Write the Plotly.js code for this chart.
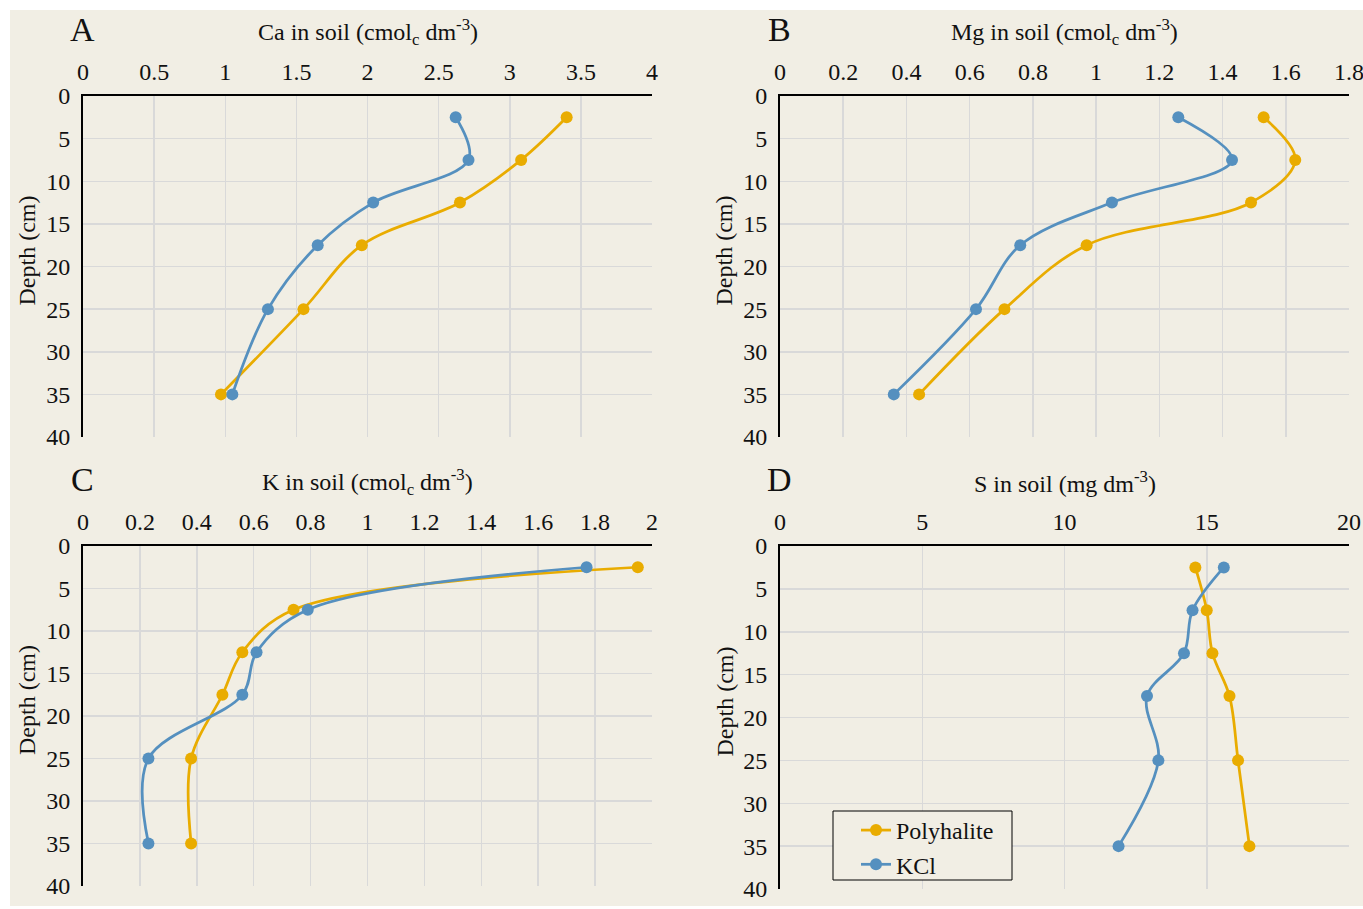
<!DOCTYPE html>
<html>
<head>
<meta charset="utf-8">
<script src="https://cdn.plot.ly/plotly-3.0.1.min.js"></script>
<style>
  html, body { margin: 0; padding: 0; background: #ffffff; }
  #chart { width: 1363px; height: 909px; }
  /* every label in the figure is set in a Times-style serif face */
  #chart text { font-family: 'Liberation Serif', 'Times New Roman', serif !important; }
</style>
</head>
<body>
<div id="chart"></div>
<script>
// Soil profiles: nutrient content by depth for two fertilizer sources
const depthCm = [2.5, 7.5, 12.5, 17.5, 25, 35];
const seriesNames = ['Polyhalite', 'KCl'];

const caPolyhalite = [3.40, 3.08, 2.65, 1.96, 1.55, 0.97];
const caKCl        = [2.62, 2.71, 2.04, 1.65, 1.30, 1.05];

const mgPolyhalite = [1.53, 1.63, 1.49, 0.97, 0.71, 0.44];
const mgKCl        = [1.26, 1.43, 1.05, 0.76, 0.62, 0.36];

const kPolyhalite  = [1.95, 0.74, 0.56, 0.49, 0.38, 0.38];
const kKCl         = [1.77, 0.79, 0.61, 0.56, 0.23, 0.23];

const sPolyhalite  = [14.6, 15.0, 15.2, 15.8, 16.1, 16.5];
const sKCl         = [15.6, 14.5, 14.2, 12.9, 13.3, 11.9];

// axis tick labels
const caTicks = ['0', '0.5', '1', '1.5', '2', '2.5', '3', '3.5', '4'];
const mgTicks = ['0', '0.2', '0.4', '0.6', '0.8', '1', '1.2', '1.4', '1.6', '1.8'];
const kTicks  = ['0', '0.2', '0.4', '0.6', '0.8', '1', '1.2', '1.4', '1.6', '1.8', '2'];
const sTicks  = ['0', '5', '10', '15', '20'];
const depthTicks = ['0', '5', '10', '15', '20', '25', '30', '35', '40'];

const panelLetters = ['A', 'B', 'C', 'D'];
const panelTitles = [
  'Ca in soil (cmol<sub>c</sub> dm<sup>-3</sup>)',
  'Mg in soil (cmol<sub>c</sub> dm<sup>-3</sup>)',
  'K in soil (cmol<sub>c</sub> dm<sup>-3</sup>)',
  'S in soil (mg dm<sup>-3</sup>)'
];
const depthTitle = 'Depth (cm)';
const tickSets = [caTicks, mgTicks, kTicks, sTicks];

const W = 1363, H = 909;
const FONT = 'Liberation Serif';
const FS = 24;
const INK = '#111111';
const BG = '#f1eee4';
const GOLD = '#e9ac00';
const BLUE = '#5590bf';

// plot-area boxes in pixels: [left, right, top, bottom]
const boxes = [
  [83, 652, 96, 437],
  [780, 1349, 96, 437],
  [83, 652, 546, 886],
  [780, 1349, 546, 889]
];
const px = v => v / W;
const py = v => 1 - v / H;

const dataPairs = [
  [caPolyhalite, caKCl],
  [mgPolyhalite, mgKCl],
  [kPolyhalite, kKCl],
  [sPolyhalite, sKCl]
];
const colors = [GOLD, BLUE];

const traces = [];
dataPairs.forEach((pair, i) => {
  const sfx = i === 0 ? '' : String(i + 1);
  pair.forEach((vals, j) => {
    traces.push({
      type: 'scatter',
      mode: 'lines+markers',
      name: seriesNames[j],
      x: vals,
      y: depthCm,
      xaxis: 'x' + sfx,
      yaxis: 'y' + sfx,
      line: { color: colors[j], width: 2.75, shape: 'spline', smoothing: 1 },
      marker: { color: colors[j], size: 12 },
      showlegend: i === 3,
      cliponaxis: false
    });
  });
});

const layout = {
  width: W,
  height: H,
  margin: { l: 0, r: 0, t: 0, b: 0 },
  paper_bgcolor: '#ffffff',
  plot_bgcolor: 'rgba(0,0,0,0)',
  font: { family: FONT, size: FS, color: INK },
  showlegend: true,
  legend: {
    x: px(856), y: py(808), xanchor: 'left', yanchor: 'top',
    bgcolor: 'rgba(0,0,0,0)', borderwidth: 0,
    font: { family: FONT, size: FS, color: INK },
    itemwidth: 30, tracegroupgap: 0
  },
  shapes: [
    {
      type: 'rect', xref: 'paper', yref: 'paper', layer: 'below',
      x0: px(10), x1: 1, y0: py(906), y1: py(10),
      fillcolor: BG, line: { width: 0 }
    },
    {
      // legend frame
      type: 'rect', xref: 'paper', yref: 'paper', layer: 'above',
      x0: px(833), x1: px(1012), y0: py(880), y1: py(811),
      fillcolor: BG, line: { color: '#000000', width: 1 }
    }
  ],
  annotations: []
};

boxes.forEach((b, i) => {
  const sfx = i === 0 ? '' : String(i + 1);
  const ticks = tickSets[i];
  const tv = ticks.map(Number);
  layout['xaxis' + sfx] = {
    domain: [px(b[0]), px(b[1])],
    anchor: 'y' + sfx,
    side: 'top',
    range: [tv[0], tv[tv.length - 1]],
    tickmode: 'array', tickvals: tv, ticktext: ticks,
    showgrid: true, gridcolor: '#d9d9d9', gridwidth: 1.5,
    zeroline: false,
    showline: true, linecolor: '#000000', linewidth: 2,
    ticks: '', ticklabelstandoff: 4, ticklabeloverflow: 'allow',
    tickfont: { family: FONT, size: FS, color: INK },
    fixedrange: true
  };
  const dv = depthTicks.map(Number);
  layout['yaxis' + sfx] = {
    domain: [py(b[3]), py(b[2])],
    anchor: 'x' + sfx,
    range: [dv[dv.length - 1], dv[0]],
    tickmode: 'array', tickvals: dv, ticktext: depthTicks,
    showgrid: true, gridcolor: '#d9d9d9', gridwidth: 1.5,
    zeroline: false,
    showline: true, linecolor: '#000000', linewidth: 2,
    ticks: '', ticklabelstandoff: 6, ticklabeloverflow: 'allow',
    tickfont: { family: FONT, size: FS, color: INK },
    fixedrange: true
  };
  const cx = (b[0] + b[1]) / 2;
  // panel title above the top axis labels
  layout.annotations.push({
    xref: 'paper', yref: 'paper', x: px(cx), y: py(b[2] - 64),
    text: panelTitles[i], showarrow: false,
    xanchor: 'center', yanchor: 'middle',
    font: { family: FONT, size: FS, color: INK }
  });
  // panel letter
  layout.annotations.push({
    xref: 'paper', yref: 'paper', x: px(b[0] - 1), y: py(b[2] - 66),
    text: panelLetters[i], showarrow: false,
    xanchor: 'center', yanchor: 'middle',
    font: { family: FONT, size: 34, color: INK }
  });
  // vertical depth label
  layout.annotations.push({
    xref: 'paper', yref: 'paper', x: px(b[0] - 56), y: py((b[2] + b[3]) / 2 - 16),
    text: depthTitle, showarrow: false, textangle: -90,
    xanchor: 'center', yanchor: 'middle',
    font: { family: FONT, size: FS, color: INK }
  });
});

Plotly.newPlot('chart', traces, layout, { staticPlot: true, displayModeBar: false });
</script>
</body>
</html>
